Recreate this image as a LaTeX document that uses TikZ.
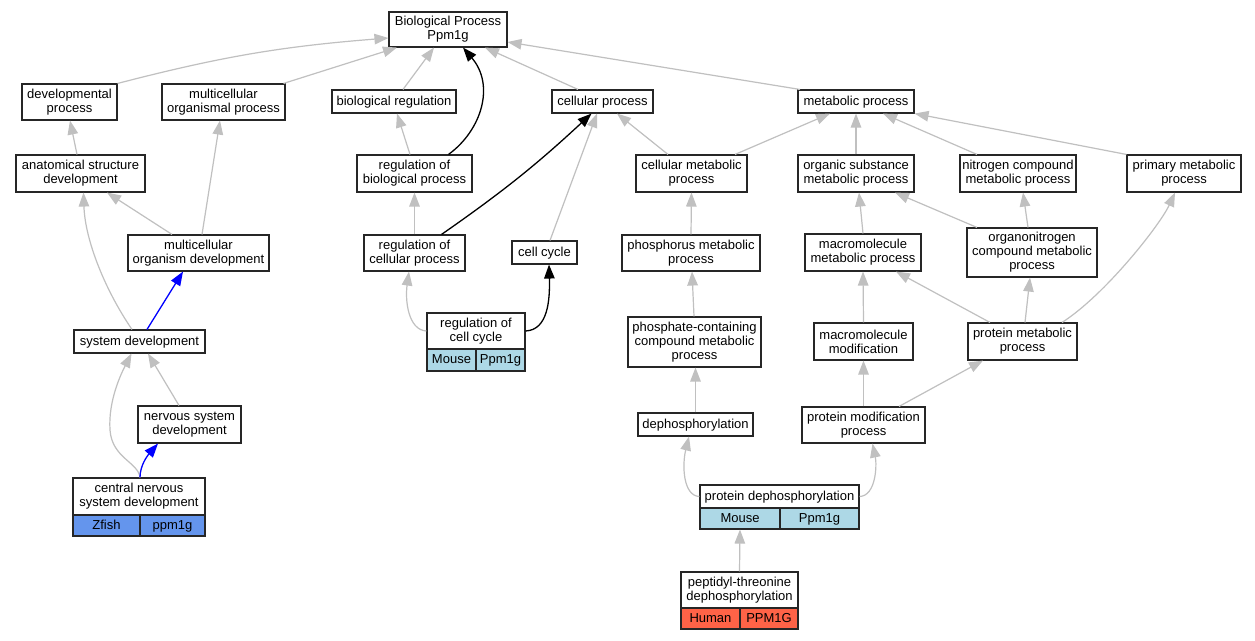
\documentclass[tikz,border=0pt]{standalone}
\usepackage{fontspec}
\setmainfont{Liberation Sans}
\usetikzlibrary{arrows.meta}
\definecolor{edgegray}{RGB}{192,192,192}
\definecolor{zfish}{RGB}{100,149,237}
\definecolor{mouse}{RGB}{173,216,230}
\definecolor{human}{RGB}{255,99,71}
\begin{document}
\begin{tikzpicture}[x=1pt,y=-1pt,
  font=\fontsize{13}{14}\selectfont,
  box/.style={draw=black!85, line width=1.1pt, fill=white, inner sep=0pt, align=center},
  one/.style={text height=9.5pt, text depth=2.5pt},
  cell/.style={draw=black!85, line width=1.1pt, inner sep=0pt, align=center, text height=9.5pt, text depth=2.5pt},
  tip/.style={-{Triangle[length=14pt,width=10.5pt]}},
  ge/.style={draw=edgegray, line width=1.2pt, tip, color=edgegray},
  be/.style={draw=black, line width=1.3pt, tip},
  ble/.style={draw=blue, line width=1.3pt, tip, color=blue}]
\useasboundingbox (0,0) rectangle (1255,640);
\fill[white] (0,0) rectangle (1255,640);

% nodes
\node[box, minimum width=118pt, minimum height=35pt] (BP) at (448,29.5) {Biological Process\\Ppm1g};
\node[box, minimum width=95pt, minimum height=36pt] (dev) at (69.5,102) {developmental\\process};
\node[box, minimum width=123pt, minimum height=36pt] (mop) at (223.5,102) {multicellular\\organismal process};
\node[box, one, minimum width=124pt, minimum height=23pt] (breg) at (394,101.5) {biological regulation};
\node[box, one, minimum width=101pt, minimum height=23pt] (cp) at (602.5,101.5) {cellular process};
\node[box, one, minimum width=116pt, minimum height=23pt] (mp) at (856,101.5) {metabolic process};
\node[box, minimum width=129pt, minimum height=37pt] (asd) at (80.5,173.5) {anatomical structure\\development};
\node[box, minimum width=115pt, minimum height=37pt] (rbp) at (414.5,173.5) {regulation of\\biological process};
\node[box, minimum width=111pt, minimum height=37pt] (cmp) at (691.5,173.5) {cellular metabolic\\process};
\node[box, minimum width=116pt, minimum height=37pt] (osmp) at (856,173.5) {organic substance\\metabolic process};
\node[box, minimum width=116pt, minimum height=37pt] (ncmp) at (1018,173.5) {nitrogen compound\\metabolic process};
\node[box, minimum width=114pt, minimum height=37pt] (prim) at (1184,173.5) {primary metabolic\\process};
\node[box, minimum width=141pt, minimum height=36pt] (mod) at (198.5,253) {multicellular\\organism development};
\node[box, minimum width=101pt, minimum height=36pt] (rcp) at (414.5,253) {regulation of\\cellular process};
\node[box, one, minimum width=65pt, minimum height=23pt] (cc) at (544.5,252.5) {cell cycle};
\node[box, minimum width=138pt, minimum height=36pt] (phmp) at (691,253) {phosphorus metabolic\\process};
\node[box, minimum width=116pt, minimum height=37pt] (mmp) at (863,252.5) {macromolecule\\metabolic process};
\node[box, minimum width=130pt, minimum height=49pt] (onmp) at (1032,252.5) {organonitrogen\\compound metabolic\\process};
\node[box, one, minimum width=131pt, minimum height=23pt] (sd) at (139.5,341.5) {system development};
\node[box, minimum width=98pt, minimum height=36pt] (rcc) at (476,331) {regulation of\\cell cycle};
\node[cell, fill=mouse, minimum width=49pt, minimum height=22pt] (rccM) at (451.5,360) {Mouse};
\node[cell, fill=mouse, minimum width=49pt, minimum height=22pt] (rccG) at (500.5,360) {Ppm1g};
\node[box, minimum width=133pt, minimum height=50pt] (pccmp) at (694.5,342) {phosphate-containing\\compound metabolic\\process};
\node[box, minimum width=99pt, minimum height=37pt] (mmod) at (863.5,341.5) {macromolecule\\modification};
\node[box, minimum width=109pt, minimum height=37pt] (pmp) at (1022.5,341.5) {protein metabolic\\process};
\node[box, minimum width=103pt, minimum height=37pt] (nsd) at (189.5,424.5) {nervous system\\development};
\node[box, one, minimum width=115pt, minimum height=23pt] (deph) at (695.5,424.5) {dephosphorylation};
\node[box, minimum width=123pt, minimum height=36pt] (pmod) at (863.5,425) {protein modification\\process};
\node[box, minimum width=132pt, minimum height=37pt] (cnsd) at (139,496.5) {central nervous\\system development};
\node[cell, fill=zfish, minimum width=67pt, minimum height=21pt] (cnsdZ) at (106.5,525.5) {Zfish};
\node[cell, fill=zfish, minimum width=65pt, minimum height=21pt] (cnsdG) at (172.5,525.5) {ppm1g};
\node[box, one, minimum width=159pt, minimum height=23pt] (pdp) at (779.5,496.5) {protein dephosphorylation};
\node[cell, fill=mouse, minimum width=80pt, minimum height=21pt] (pdpM) at (740,518.5) {Mouse};
\node[cell, fill=mouse, minimum width=79pt, minimum height=21pt] (pdpG) at (819.5,518.5) {Ppm1g};
\node[box, minimum width=117pt, minimum height=36pt] (pep) at (739.5,590) {peptidyl-threonine\\dephosphorylation};
\node[cell, fill=human, minimum width=59pt, minimum height=21pt] (pepH) at (710.5,618.5) {Human};
\node[cell, fill=human, minimum width=58pt, minimum height=21pt] (pepG) at (769,618.5) {PPM1G};

% edges
\draw[ge] (dev.north east) to[bend left=5] ([yshift=-8.5pt]BP.west);
\draw[ge] ([xshift=60pt]mop.north) -- ([xshift=-51pt]BP.south);
\draw[ge] ([xshift=9pt]breg.north) -- ([xshift=-14pt]BP.south);
\draw[be] ([xshift=34pt]rbp.north) .. controls (482,130) and (495,85) .. ([xshift=15pt]BP.south);
\draw[ge] ([xshift=-24.5pt]cp.north) -- ([xshift=37pt]BP.south);
\draw[ge] ([xshift=-56pt]mp.north) -- ([yshift=-12.5pt]BP.east);
\draw[ge] ([xshift=-3.5pt]asd.north) -- ([xshift=0.5pt]dev.south);
\draw[ge] ([xshift=3.5pt]mod.north) -- ([xshift=-3.5pt]mop.south);
\draw[ge] ([xshift=-26.5pt]mod.north) -- ([xshift=26.5pt]asd.south);
\draw[ge] ([xshift=-4.5pt]rbp.north) -- ([xshift=3pt]breg.south);
\draw[ge] (rcp.north) -- (rbp.south);
\draw[be] ([xshift=27pt]rcp.north) to[bend right=4] ([xshift=-11pt]cp.south);
\draw[ge] ([xshift=5.5pt]cc.north) -- ([xshift=-5.5pt]cp.south);
\draw[ge] ([xshift=-23.5pt]cmp.north) -- ([xshift=14.5pt]cp.south);
\draw[ge] ([xshift=43.5pt]cmp.north) -- ([xshift=-26pt]mp.south);
\draw[ge] (osmp.north) -- (mp.south);
\draw[ge] ([xshift=-41pt]ncmp.north) -- ([xshift=27pt]mp.south);
\draw[ge] (prim.north west) -- (mp.south east);
\draw[ge] (phmp.north) -- (cmp.south);
\draw[ge] (mmp.north) -- ([xshift=3pt]osmp.south);
\draw[ge] ([xshift=-55pt]onmp.north) -- ([xshift=39pt]osmp.south);
\draw[ge] ([xshift=-4pt]onmp.north) -- ([xshift=5pt]ncmp.south);
\draw[ge] ([xshift=-7.5pt]sd.north) .. controls (105,290) and (85,240) .. ([xshift=3pt]asd.south);
\draw[ble] ([xshift=7.5pt]sd.north) -- ([xshift=-15.5pt]mod.south);
\draw[ge] (rcc.west) .. controls (408,330) and (405,300) .. ([xshift=-5.5pt]rcp.south);
\draw[be] (rcc.east) .. controls (548,330) and (550,300) .. ([xshift=4.5pt]cc.south);
\draw[ge] ([xshift=-0.5pt]pccmp.north) -- ([xshift=1pt]phmp.south);
\draw[ge] ([xshift=-32.5pt]pmp.north) -- ([xshift=33pt]mmp.south);
\draw[ge] ([xshift=2.5pt]pmp.north) -- ([xshift=-2pt]onmp.south);
\draw[ge] ([xshift=39.5pt]pmp.north) .. controls (1105,295) and (1160,225) .. ([xshift=-9pt]prim.south);
\draw[ge] (mmod.north) -- (mmp.south);
\draw[ge] ([xshift=-10.5pt]nsd.north) -- ([xshift=8.5pt]sd.south);
\draw[ge] ([xshift=1pt]cnsd.north) .. controls (138,462) and (112,458) .. (110,430) .. controls (108,400) and (122,372) .. ([xshift=-8pt]sd.south);
\draw[ble] ([xshift=1pt]cnsd.north) .. controls (140,465) and (148,455) .. ([xshift=-31.5pt]nsd.south);
\draw[ge] (deph.north) -- ([xshift=1pt]pccmp.south);
\draw[ge] (pmod.north) -- (mmod.south);
\draw[ge] ([xshift=35.5pt]pmod.north) -- ([xshift=-39.5pt]pmp.south);
\draw[ge] (pdp.west) .. controls (683,496) and (682,465) .. ([xshift=-6.5pt]deph.south);
\draw[ge] (pdp.east) .. controls (876,496) and (877,465) .. ([xshift=9pt]pmod.south);
\draw[ge] (pep.north) -- (pdpM.south);
\end{tikzpicture}
\end{document}
